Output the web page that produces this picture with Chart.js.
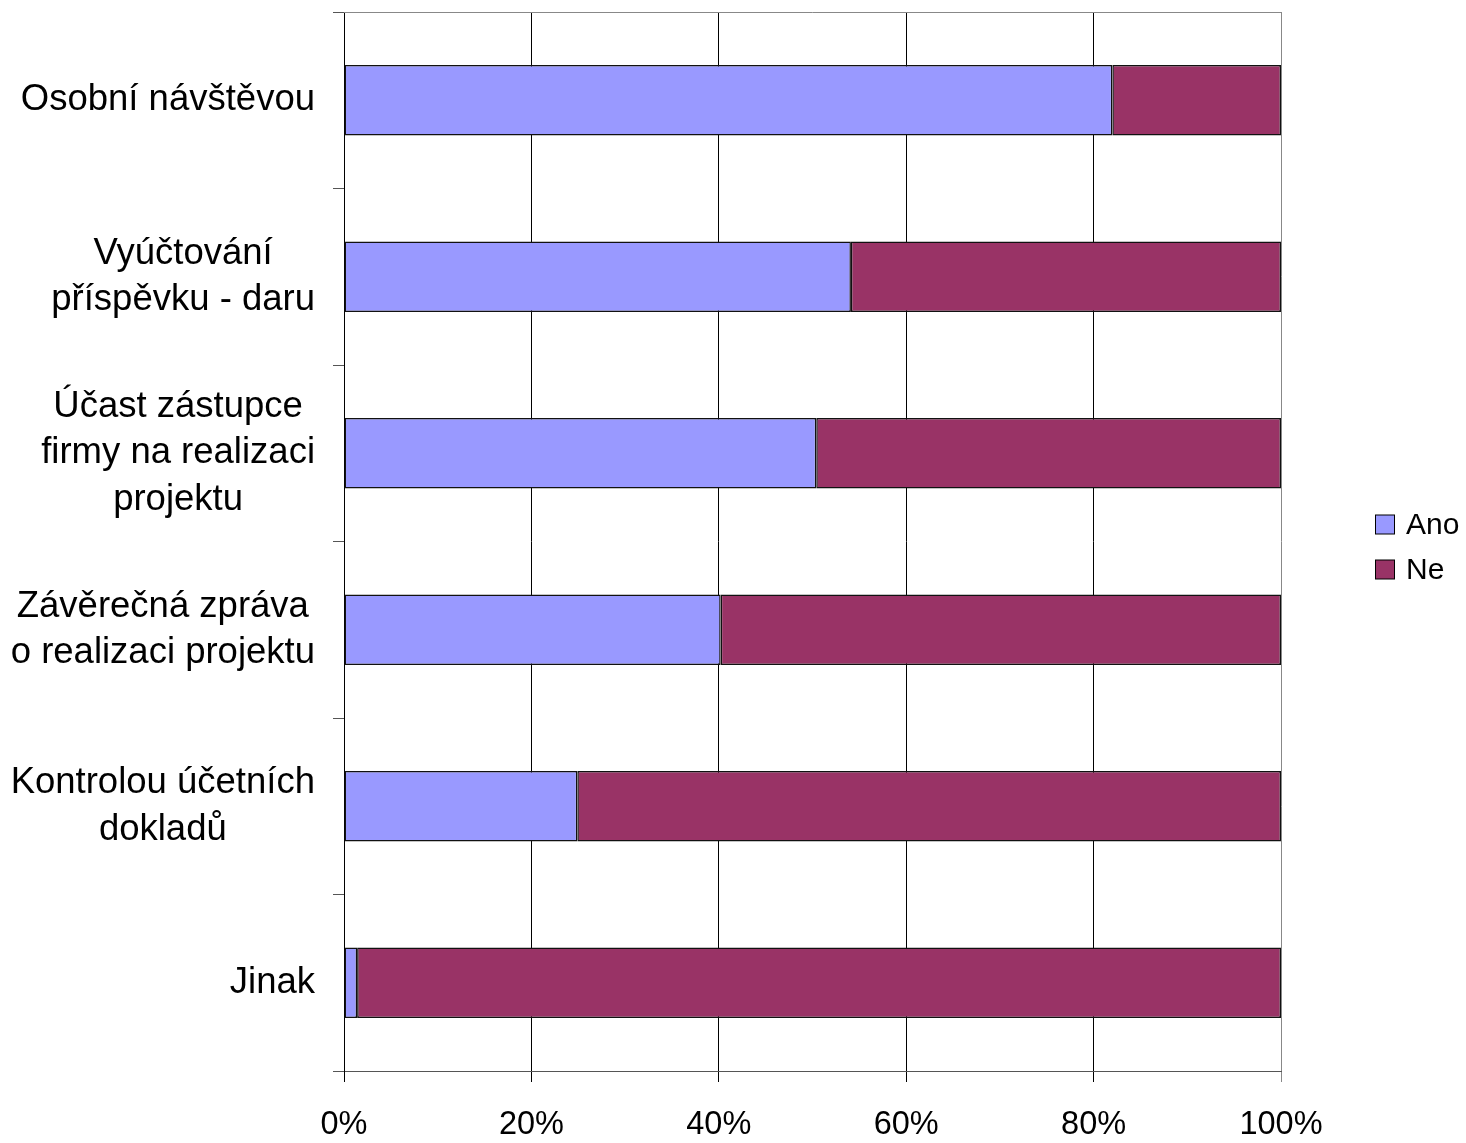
<!DOCTYPE html>
<html>
<head>
<meta charset="utf-8">
<script src="https://cdn.jsdelivr.net/npm/chart.js@4/dist/chart.umd.min.js"></script>
<style>
  body { margin: 0; background: #fff; }
  #wrap { width: 1466px; height: 1143px; }
</style>
</head>
<body>
<div id="wrap"><canvas id="chart" width="1466" height="1143"></canvas></div>
<script>
// categories, top to bottom
const categories = [
  'Osobní návštěvou',
  ['Vyúčtování', 'příspěvku - daru'],
  ['Účast zástupce', 'firmy na realizaci', 'projektu'],
  ['Závěrečná zpráva', 'o realizaci projektu'],
  ['Kontrolou účetních', 'dokladů'],
  'Jinak',
];
const anoValues = [82.0, 54.1, 50.4, 40.2, 24.9, 1.4];
const neValues = [18.0, 45.9, 49.6, 59.8, 75.1, 98.6];
const xTickLabels = ['0%', '20%', '40%', '60%', '80%', '100%'];

const FONT = '"Liberation Sans", Arial, sans-serif';

// category labels: block right-aligned, lines centred inside the block
const catLabels = {
  id: 'catLabels',
  afterDraw(chart) {
    const ctx = chart.ctx;
    const y = chart.scales.y;
    const right = y.right - 29;
    const lh = 46.5;
    ctx.save();
    ctx.font = '36.5px ' + FONT;
    ctx.fillStyle = '#000';
    ctx.textAlign = 'center';
    ctx.textBaseline = 'middle';
    chart.data.labels.forEach((lab, i) => {
      const lines = Array.isArray(lab) ? lab : [lab];
      const w = Math.max(...lines.map(l => ctx.measureText(l).width));
      const cy = y.getPixelForTick(i);
      const y0 = cy - (lines.length - 1) * lh / 2;
      lines.forEach((l, k) => ctx.fillText(l, right - w / 2, y0 + k * lh));
    });
    ctx.restore();
  }
};

// top border of plot + legend on the right
const extras = {
  id: 'extras',
  afterDraw(chart) {
    const ctx = chart.ctx;
    const a = chart.chartArea;
    ctx.save();
    ctx.strokeStyle = '#888';
    ctx.lineWidth = 1;
    ctx.beginPath();
    ctx.moveTo(a.left, a.top + 0.5);
    ctx.lineTo(a.right + 0.5, a.top + 0.5);
    ctx.stroke();

    ctx.font = '30px ' + FONT;
    ctx.textBaseline = 'middle';
    ctx.textAlign = 'left';
    chart.data.datasets.forEach((ds, i) => {
      const cy = 524.5 + i * 45;
      ctx.fillStyle = ds.backgroundColor;
      ctx.fillRect(1375.5, cy - 9.5, 19, 19);
      ctx.strokeStyle = '#000';
      ctx.strokeRect(1375.5, cy - 9.5, 19, 19);
      ctx.fillStyle = '#000';
      ctx.fillText(ds.label, 1406, cy + 1);
    });
    ctx.restore();
  }
};

new Chart(document.getElementById('chart'), {
  type: 'bar',
  data: {
    labels: categories,
    datasets: [
      { label: 'Ano', data: anoValues, backgroundColor: '#9999ff' },
      { label: 'Ne', data: neValues, backgroundColor: '#993366' },
    ],
  },
  options: {
    indexAxis: 'y',
    responsive: false,
    animation: false,
    devicePixelRatio: 1,
    layout: { padding: { top: 12, right: 185, left: 0, bottom: 0 } },
    datasets: {
      bar: {
        categoryPercentage: 1,
        barPercentage: 0.4,
        borderColor: '#111',
        borderWidth: 1.5,
        borderSkipped: false,
      },
    },
    plugins: { legend: { display: false }, tooltip: { enabled: false } },
    scales: {
      x: {
        stacked: true,
        min: 0,
        max: 100,
        ticks: {
          stepSize: 20,
          padding: 24,
          color: '#000',
          font: { family: FONT, size: 32.5 },
          callback: (v, i) => xTickLabels[i],
        },
        grid: {
          color: ctx => (ctx.index === xTickLabels.length - 1 ? '#888' : '#000'),
          lineWidth: 1,
          tickLength: 11,
        },
        border: { color: '#555', width: 1 },
        afterFit: s => { s.height = 72; },
      },
      y: {
        stacked: true,
        offset: true,
        ticks: { display: false },
        grid: {
          offset: true,
          drawOnChartArea: false,
          tickLength: 11,
          color: '#555',
        },
        border: { color: '#000', width: 1 },
        afterFit: s => { s.width = 344; },
      },
    },
  },
  plugins: [catLabels, extras],
});
</script>
</body>
</html>
